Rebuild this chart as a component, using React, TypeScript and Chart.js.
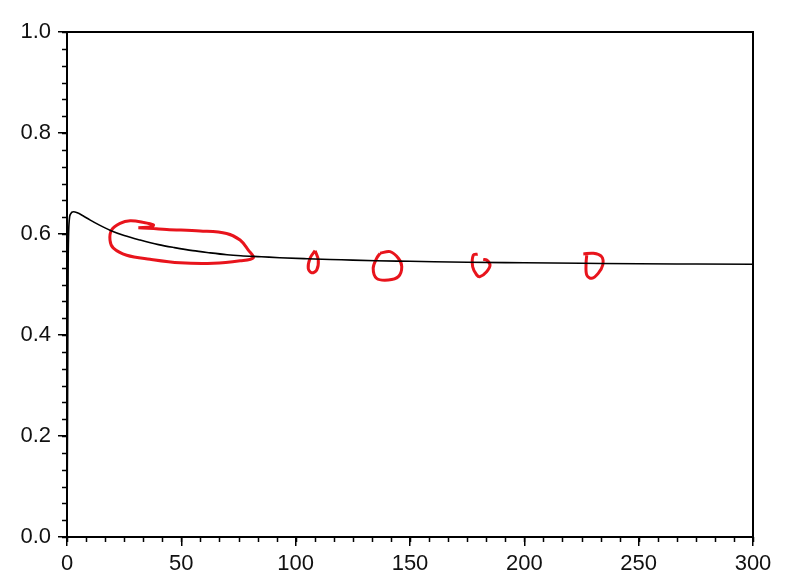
import React, { useEffect, useRef } from "react";
import { Chart, registerables } from "chart.js";

Chart.register(...registerables);

// Black response curve
const curveX = [0, 0.2, 0.4, 0.5, 0.7, 1.0, 1.6, 2.8, 4.5, 7, 10, 14, 19, 25, 32, 40, 47, 55, 62, 70, 76, 85, 93, 105, 120, 135, 150, 175, 200, 225, 250, 275, 300];
const curveY = [0.0, 0.2, 0.45, 0.54, 0.60, 0.628, 0.640, 0.644, 0.642, 0.636, 0.628, 0.618, 0.607, 0.597, 0.588, 0.579, 0.573, 0.567, 0.563, 0.559, 0.557, 0.555, 0.553, 0.551, 0.549, 0.547, 0.546, 0.544, 0.543, 0.542, 0.541, 0.5405, 0.540];

// Red hand-drawn annotation loops
const loop1X = [31.2, 37.0, 37.8, 33.4, 27.6, 23.2, 19.5, 18.8, 20.3, 26.1, 36.3, 49.4, 64.0, 75.7, 81.5, 79.3, 75.7, 69.8, 58.2, 43.6, 31.2];
const loop1Y = [0.6125, 0.6145, 0.618, 0.623, 0.626, 0.621, 0.608, 0.588, 0.572, 0.558, 0.550, 0.543, 0.542, 0.547, 0.553, 0.568, 0.588, 0.601, 0.606, 0.609, 0.6125];
const loop2X = [108.5, 109.9, 109.2, 107.0, 105.5, 106.3, 108.5];
const loop2Y = [0.567, 0.5485, 0.5287, 0.5234, 0.532, 0.552, 0.567];
const loop3X = [136.9, 141.3, 144.9, 146.4, 144.9, 140.5, 135.4, 133.9, 135.4, 136.9];
const loop3Y = [0.5618, 0.565, 0.5519, 0.5352, 0.5155, 0.5089, 0.5122, 0.532, 0.5519, 0.5618];
const loop4X = [179.6, 177.7, 177.4, 179.2, 180.6, 183.5, 185.0, 183.5, 182.0];
const loop4Y = [0.5600, 0.5584, 0.5352, 0.5188, 0.5155, 0.5254, 0.5386, 0.5485, 0.5498];
const loop5X = [225.8, 230.2, 233.8, 234.3, 232.3, 229.5, 227.3, 227.0, 227.3];
const loop5Y = [0.5604, 0.5618, 0.5551, 0.5386, 0.5221, 0.5122, 0.5188, 0.5419, 0.5584];

const xMin = 0, xMax = 300, xStep = 50, xMinorDiv = 6;
const yMin = 0, yMax = 1, yStep = 0.2, yMinorDiv = 6;

const zip = (xs: number[], ys: number[]) => xs.map((x, i) => ({ x, y: ys[i] }));

const frameAndMinor = {
  id: "frameAndMinor",
  afterDraw(chart: any) {
    const { ctx, chartArea } = chart;
    const xs = chart.scales.x;
    const ys = chart.scales.y;
    ctx.save();
    ctx.strokeStyle = "#000";
    ctx.lineWidth = 2;
    ctx.beginPath();
    ctx.rect(chartArea.left, chartArea.top, chartArea.right - chartArea.left, chartArea.bottom - chartArea.top);
    ctx.stroke();
    ctx.lineWidth = 1.5;
    ctx.beginPath();
    const xm = xStep / xMinorDiv;
    for (let v = xMin; v <= xMax + 1e-9; v += xm) {
      const px = Math.round(xs.getPixelForValue(v)) + 0.5;
      ctx.moveTo(px, chartArea.bottom);
      ctx.lineTo(px, chartArea.bottom + 5);
    }
    const ymn = yStep / yMinorDiv;
    for (let v = yMin; v <= yMax + 1e-9; v += ymn) {
      const py = Math.round(ys.getPixelForValue(v)) + 0.5;
      ctx.moveTo(chartArea.left, py);
      ctx.lineTo(chartArea.left - 5, py);
    }
    ctx.stroke();
    ctx.restore();
  },
};

export default function App() {
  const ref = useRef<HTMLCanvasElement>(null);
  useEffect(() => {
    if (!ref.current) return;
    const red = "#e8141c";
    const loopDs = (xs: number[], ys: number[]) => ({
      data: zip(xs, ys),
      showLine: true,
      borderColor: red,
      borderWidth: 3,
      pointRadius: 0,
      tension: 0.35,
      fill: false,
    });
    const font = { family: "'Liberation Sans', Arial, sans-serif", size: 22 };
    const chart = new Chart(ref.current, {
      type: "scatter",
      data: {
        datasets: [
          {
            data: zip(curveX, curveY),
            showLine: true,
            borderColor: "#000",
            borderWidth: 1.6,
            pointRadius: 0,
            cubicInterpolationMode: "monotone",
            fill: false,
          } as any,
          loopDs(loop1X, loop1Y),
          loopDs(loop2X, loop2Y),
          loopDs(loop3X, loop3Y),
          loopDs(loop4X, loop4Y),
          loopDs(loop5X, loop5Y),
        ],
      },
      options: {
        animation: false,
        responsive: false,
        layout: { padding: { left: 0, top: 32, right: 47, bottom: 0 } },
        plugins: { legend: { display: false }, tooltip: { enabled: false } },
        scales: {
          x: {
            type: "linear",
            min: xMin,
            max: xMax,
            border: { display: true, color: "#000", width: 2 },
            grid: { drawOnChartArea: false, color: "#000", tickLength: 9, lineWidth: 1.5 },
            ticks: {
              stepSize: xStep,
              color: "#111",
              padding: 5,
              font,
              maxRotation: 0,
            },
            afterFit: (s: any) => { s.height = 46; },
          },
          y: {
            type: "linear",
            min: yMin,
            max: yMax,
            border: { display: true, color: "#000", width: 2 },
            grid: { drawOnChartArea: false, color: "#000", tickLength: 9, lineWidth: 1.5 },
            ticks: {
              stepSize: yStep,
              color: "#111",
              padding: 7,
              font,
              callback: (v: any) => Number(v).toFixed(1),
            },
            afterFit: (s: any) => { s.width = 67; },
          },
        },
      },
      plugins: [frameAndMinor],
    });
    return () => chart.destroy();
  }, []);
  return (
    <div style={{ position: "fixed", left: 0, top: 0, width: 800, height: 583, background: "#fff" }}>
      <canvas ref={ref} width={800} height={583} />
    </div>
  );
}
